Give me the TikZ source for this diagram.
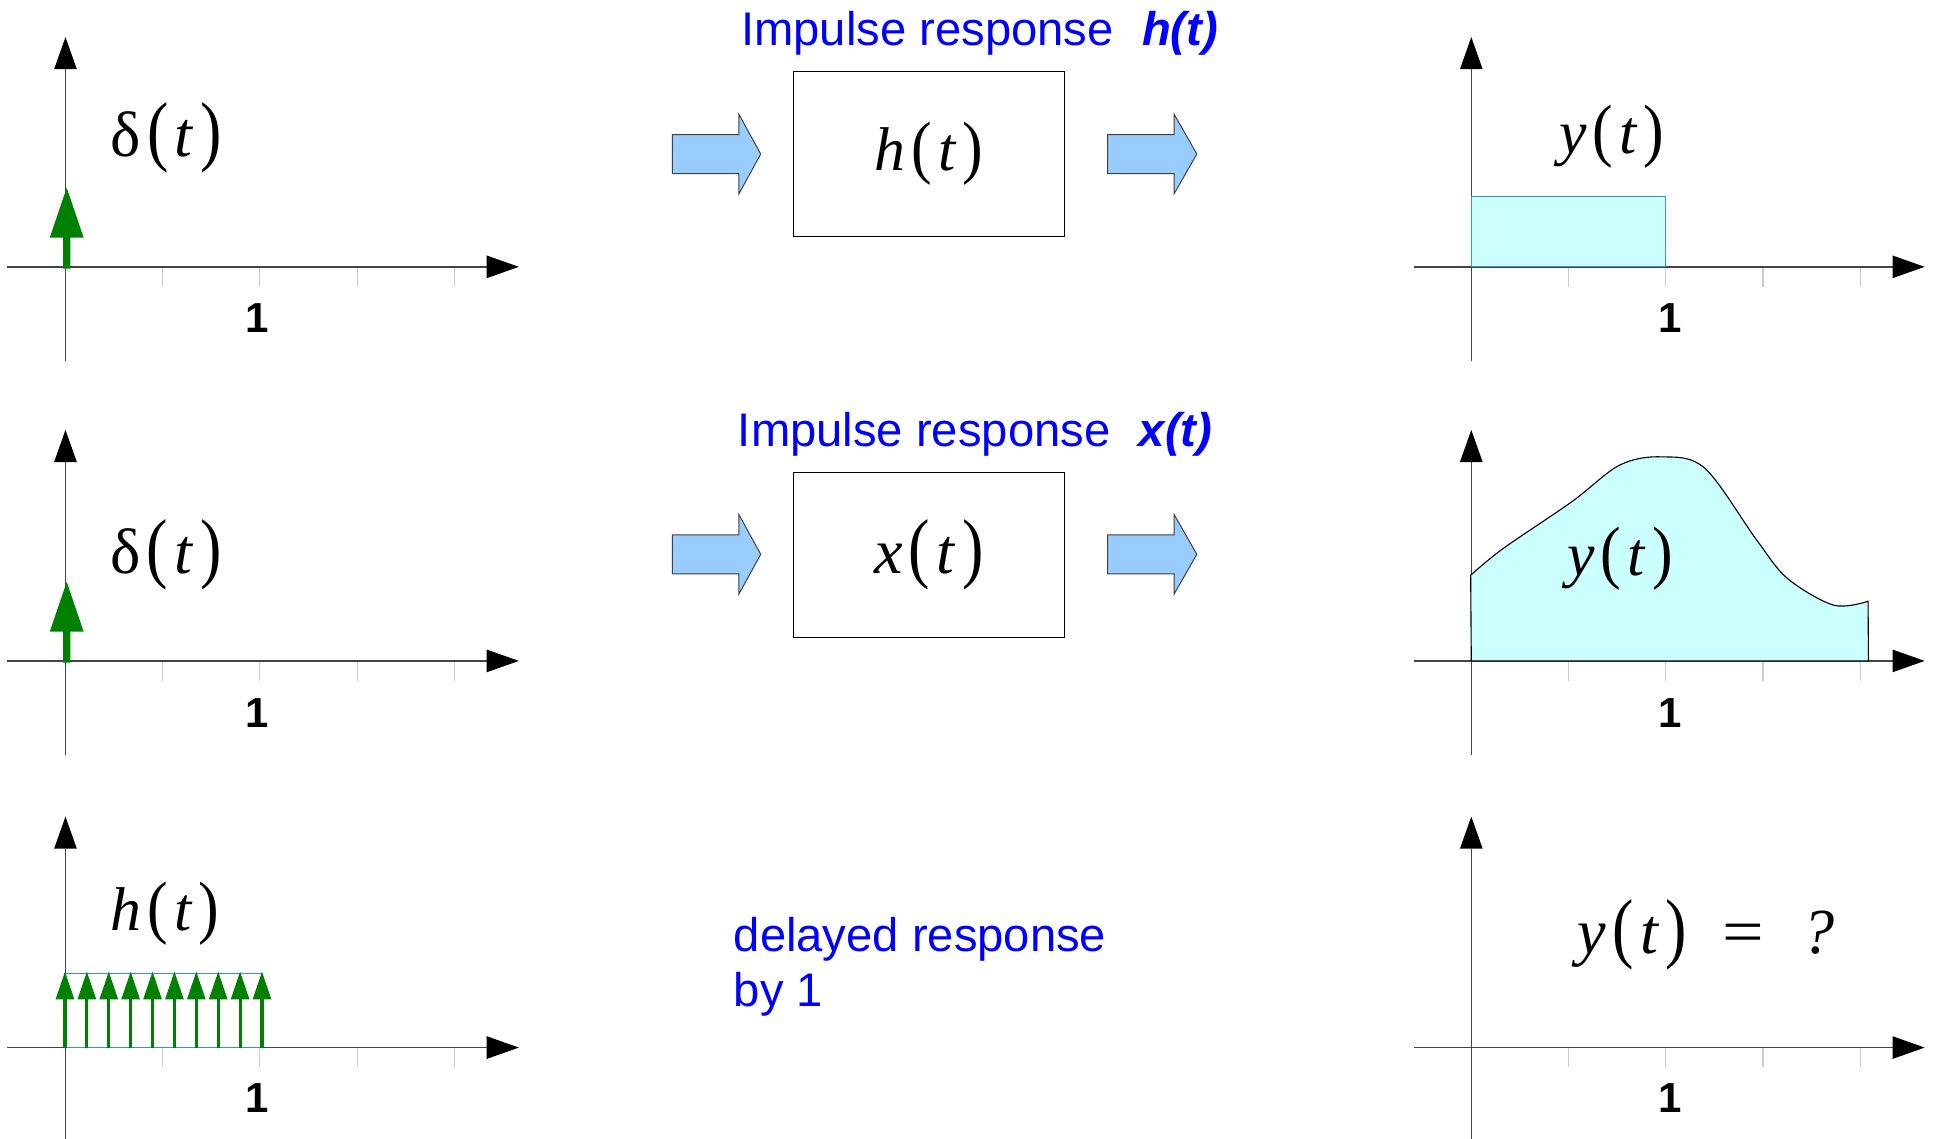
\documentclass[tikz,border=0pt]{standalone}
\usepackage{fontspec}
\setmainfont{Liberation Serif}
\newfontfamily\lsans{Liberation Sans}[BoldFont={Liberation Sans Bold},BoldItalicFont={Liberation Sans Bold Italic}]
\usepackage{graphicx}
\definecolor{arrowblue}{HTML}{99CCFF}
\definecolor{pulsefill}{HTML}{CCFFFF}
\definecolor{pulseedge}{RGB}{60,140,230}
\definecolor{stemgreen}{HTML}{008000}
\definecolor{axisgray}{HTML}{444444}
\definecolor{tickgray}{HTML}{CCCCCC}
\definecolor{titleblue}{HTML}{0000FF}

\newcommand{\sigfn}[2]{#1\kern0.1em\scalebox{1}[#2]{(}\kern0.1em\textit{t}\kern0.1em\scalebox{1}[#2]{)}}

% #1 ox, #2 oy, #3 ytop, #4 ybot, #5 xleft
\newcommand{\plotaxes}[5]{%
  \foreach \k in {0,...,4} \draw[tickline] ({#1+78.7*\k},#2) -- ({#1+78.7*\k},{#2+16});
  \draw[axisline] (#5,#2) -- ({#1+341},#2);
  \fill[axistip] ({#1+341},{#2-9.2}) -- ({#1+367},#2) -- ({#1+341},{#2+9.2}) -- cycle;
  \draw[axisline] (#1,#4) -- (#1,{#3+26});
  \fill[axistip] ({#1-9.2},{#3+26}) -- (#1,#3) -- ({#1+9.2},{#3+26}) -- cycle;
}
% big green impulse: #1 x, #2 axis y
\newcommand{\bigstem}[2]{%
  \fill[stemgreen] ({#1-2.9},{#2+1.4}) -- ({#1-2.9},{#2-23.7}) -- ({#1-13.7},{#2-23.7}) -- (#1,{#2-64})
    -- ({#1+13.7},{#2-23.7}) -- ({#1+2.9},{#2-23.7}) -- ({#1+2.9},{#2+1.4}) -- cycle;
}
% small green impulse: #1 x
\newcommand{\smallstem}[1]{%
  \draw[stemgreen, line width=1.25pt] (#1,848) -- (#1,808);
  \fill[stemgreen] ({#1-7.6},809) -- (#1,786.6) -- ({#1+7.6},809) -- cycle;
}
% block arrow: #1 x start, #2 head base, #3 tip, #4 centre y
\newcommand{\blockarrow}[4]{%
  \draw[blockarrowstyle] (#1,{#4-15.8}) -- (#2,{#4-15.8}) -- (#2,{#4-32.1}) -- (#3,#4)
    -- (#2,{#4+32.1}) -- (#2,{#4+15.8}) -- (#1,{#4+15.8}) -- cycle;
}

\begin{document}
\begin{tikzpicture}[x=0.5pt,y=-0.5pt,
  axisline/.style={draw=axisgray, line width=0.6pt},
  axistip/.style={fill=black},
  tickline/.style={draw=tickgray, line width=0.45pt},
  onelabel/.style={font=\lsans\bfseries\fontsize{17pt}{20pt}\selectfont, inner sep=0pt},
  mathA/.style={font=\fontsize{25pt}{30pt}\selectfont, inner sep=0pt},
  mathB/.style={font=\fontsize{26pt}{31pt}\selectfont, inner sep=0pt},
  bluetitle/.style={text=titleblue, font=\lsans\fontsize{19.1pt}{23pt}\selectfont, inner sep=0pt},
  blockarrowstyle/.style={fill=arrowblue, draw=black!75, line width=0.4pt},
  sysbox/.style={draw=black, line width=0.5pt, minimum width=109.7pt, minimum height=66.8pt, inner sep=0pt},
  pulsebox/.style={fill=pulsefill, draw=pulseedge, line width=0.5pt},
  curvebox/.style={fill=pulsefill, draw=black, line width=0.45pt}
]
\fill[white] (0,0) rectangle (1568,922);
\useasboundingbox (0,0) rectangle (1568,922);

% ---------------- left column ----------------
\plotaxes{53}{216}{30}{292}{6}
\bigstem{54}{216}
\node[mathB, anchor=base] (delta1) at (134.5,126.8) {\sigfn{δ}{1.21}};
\node[onelabel] (oneL1) at (208,257.7) {1};

\plotaxes{53}{535}{348}{611}{6}
\bigstem{54}{535}
\node[mathB, anchor=base] (delta2) at (134.3,464.1) {\sigfn{δ}{1.21}};
\node[onelabel] (oneL2) at (208.2,576.8) {1};

\plotaxes{53}{848}{661}{922}{6}
\draw[draw=pulseedge, line width=0.5pt] (52.6,788) rectangle (211.9,848);
\foreach \i in {0,...,9} { \smallstem{52.6+17.72*\i} }
\node[mathA, anchor=base] (hsig) at (133.6,752.9) {\sigfn{\textit{h}}{1.13}};
\node[onelabel] (oneL3) at (208,889) {1};

% ---------------- middle column ----------------
\node[bluetitle, anchor=base west] (title1) at (599.7,37) {Impulse response\hspace{0.6em}\textbf{\textit{h(t)}}};
\blockarrow{544.3}{598.2}{615.8}{124.7}
\node[sysbox, mathA] (sys1) at (751.9,124.5) {\sigfn{\textit{h}}{1.13}};
\blockarrow{896.7}{950.5}{968.8}{124.7}

\node[bluetitle, anchor=base west] (title2) at (597,361.6) {Impulse response\hspace{0.6em}\textbf{\textit{x(t)}}};
\blockarrow{544.3}{598.2}{615.8}{448.7}
\node[sysbox, mathB] (sys2) at (751.9,449.3) {\sigfn{\textit{x}}{1.21}};
\blockarrow{896.7}{950.5}{968.8}{448.7}

\node[bluetitle, anchor=base west] (delay1) at (593.6,770.4) {delayed response};
\node[bluetitle, anchor=base west] (delay2) at (593.6,814.4) {by 1};

% ---------------- right column ----------------
\plotaxes{1191}{216}{30}{292}{1145}
\draw[pulsebox] (1191,159) rectangle (1348.2,216);
\node[mathA, anchor=base] (ysig1) at (1304.7,124.1) {\sigfn{\textit{y}}{1.13}};
\node[onelabel] (oneR1) at (1352.2,257.7) {1};

\plotaxes{1191}{535}{348}{611}{1145}
\draw[curvebox] (1191,535) -- plot[smooth, tension=0.55] coordinates {(1190.5,465.6) (1216.8,444) (1272.3,406.2) (1311.1,376.5) (1345,369.8) (1380,379) (1422.1,437.3) (1447,468.3) (1484.5,489.9) (1512.2,486.7)} -- (1512.5,535) -- cycle;
\node[mathA, anchor=base] (ysig2) at (1311.4,465.5) {\sigfn{\textit{y}}{1.13}};
\node[onelabel] (oneR2) at (1352.2,577) {1};

\plotaxes{1191}{848}{661}{922}{1145}
\node[mathB, anchor=base] (yq) at (1381,771.7) {\sigfn{\textit{y}}{1.21}\hspace{0.55em}\scalebox{1.15}[1]{=}\hspace{0.6em}\textit{?}};
\node[onelabel] (oneR3) at (1352.2,889.1) {1};
\end{tikzpicture}
\end{document}
